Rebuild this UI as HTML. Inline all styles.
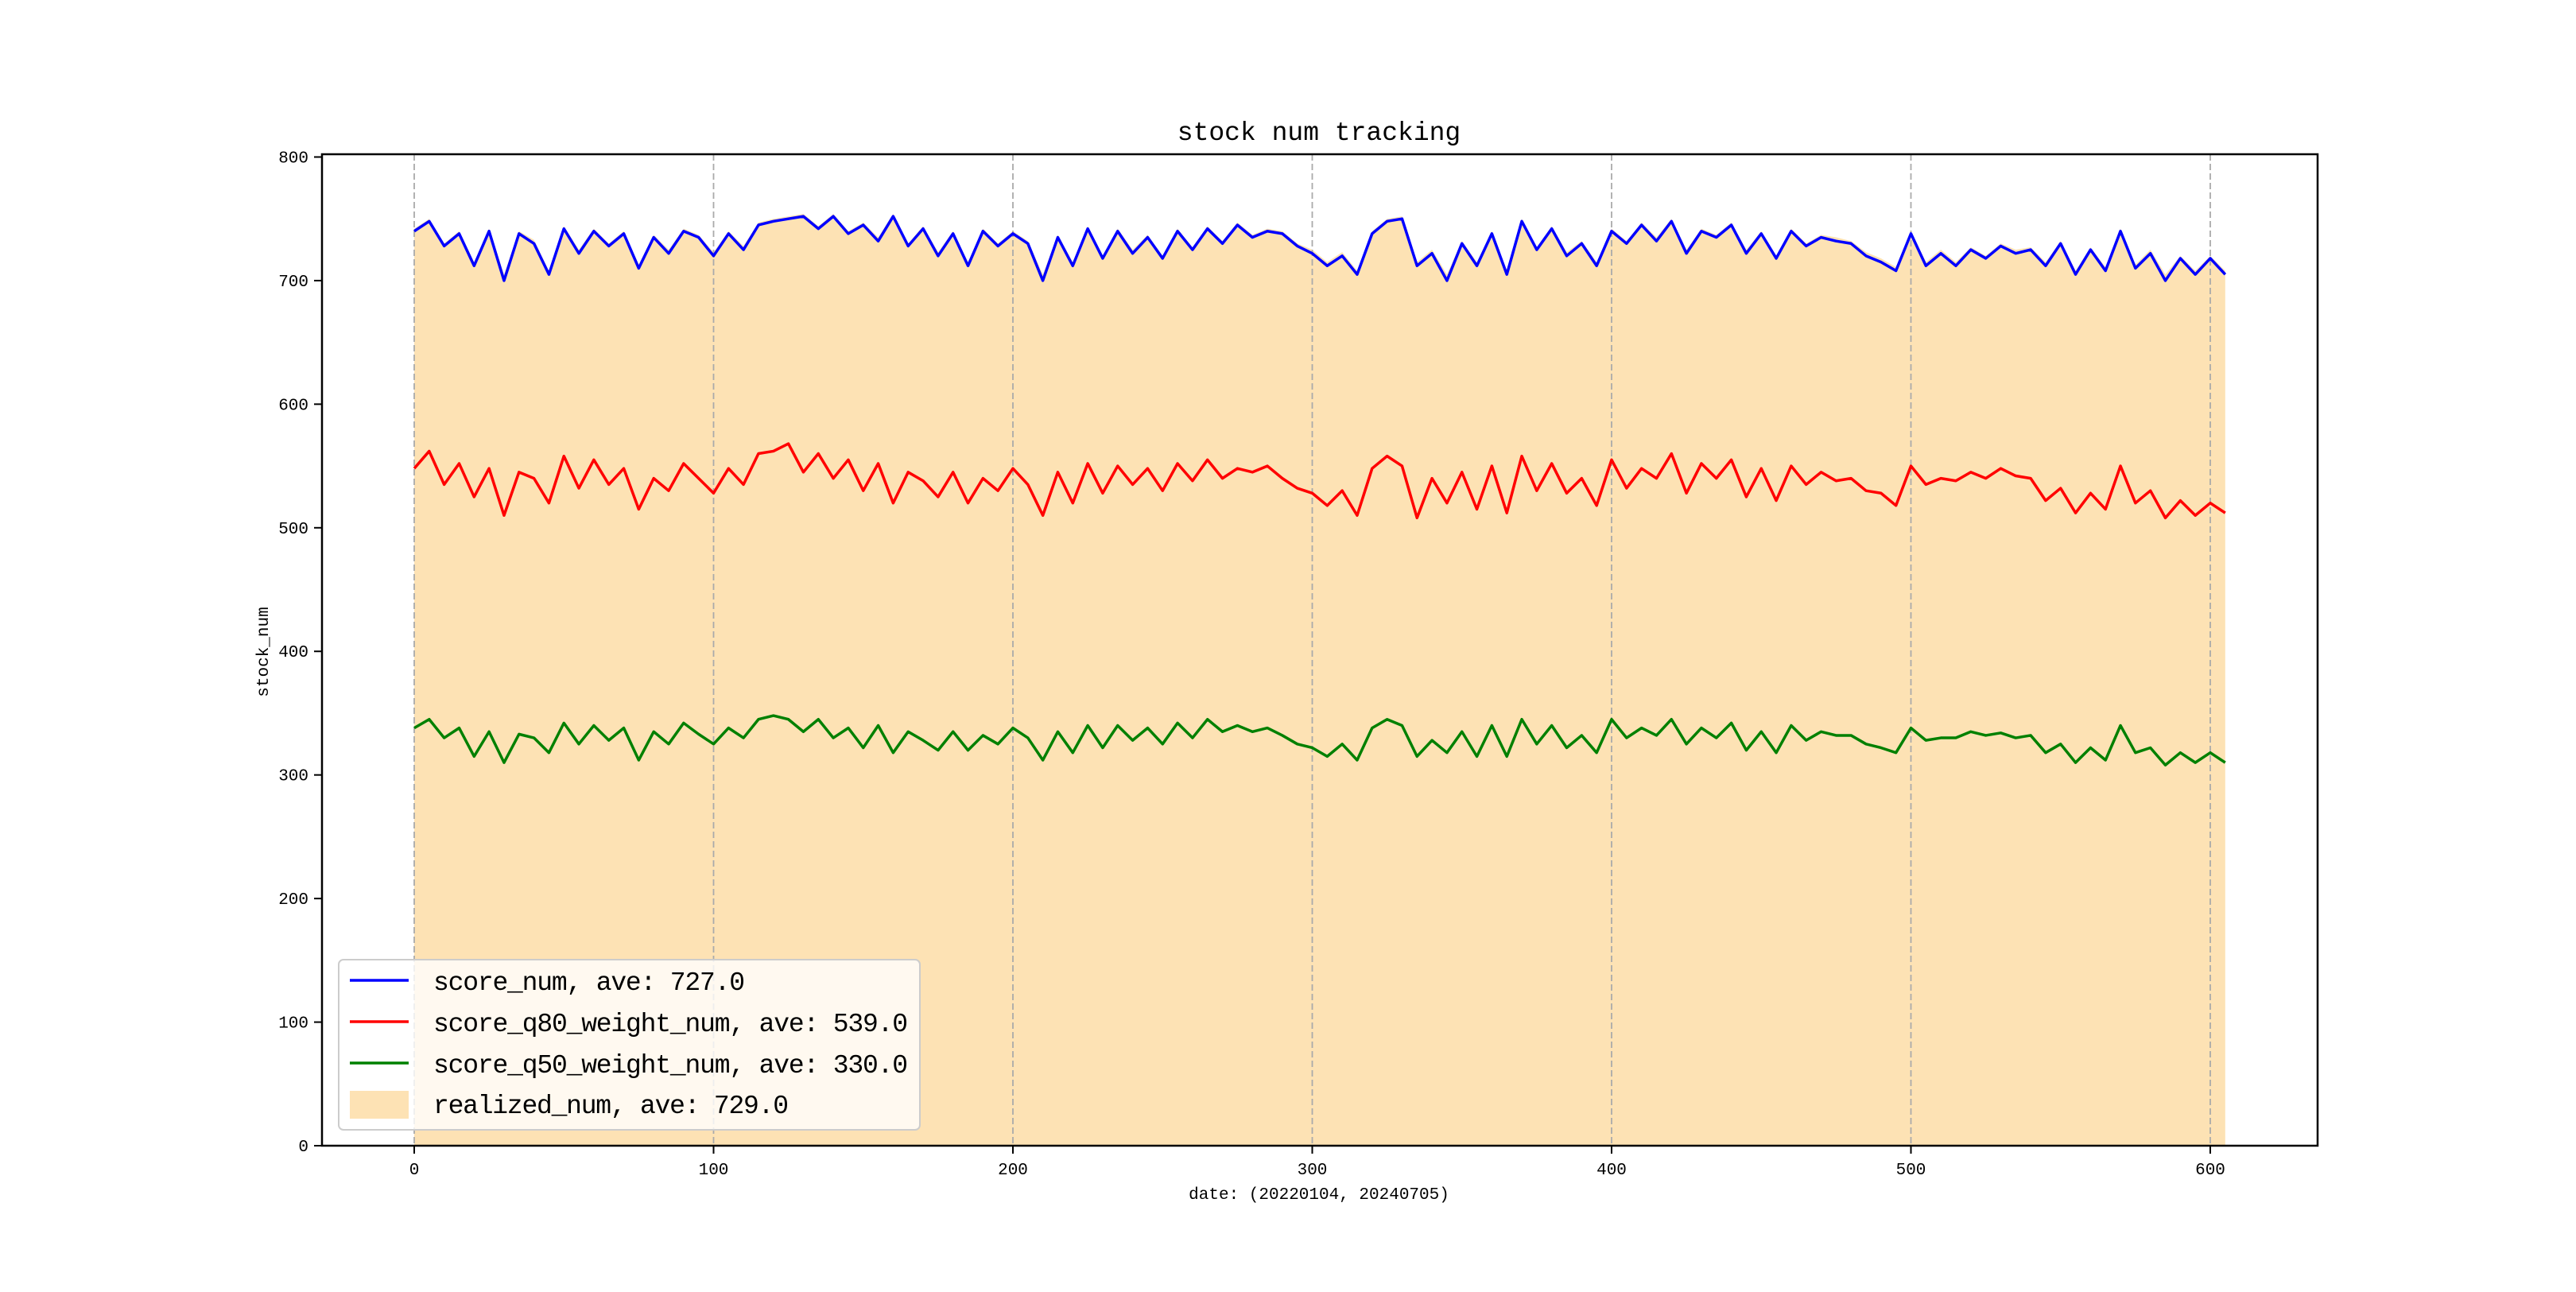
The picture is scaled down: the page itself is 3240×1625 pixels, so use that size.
<!DOCTYPE html>
<html><head><meta charset="utf-8"><style>
body{margin:0;background:#fff}
svg text{font-family:"Liberation Mono","Noto Sans CJK SC",monospace;fill:#000}
</style></head><body>
<svg id="chart" width="3240" height="1620" viewBox="0 0 3240 1620" xmlns="http://www.w3.org/2000/svg">
<rect x="0" y="0" width="3240" height="1620" fill="#fff"/>
<g id="fill-layer"></g>
<g id="grid-layer"></g>
<g id="line-layer"></g>
<rect x="405" y="194" width="2510" height="1247" fill="none" stroke="#000" stroke-width="2.5"/>
<g id="axis-layer"></g>
<text x="1659" y="176" font-size="33" text-anchor="middle">stock num tracking</text>
<text x="1659" y="1508" font-size="21" text-anchor="middle">date: (20220104, 20240705)</text>
<text x="337" y="820" font-size="21" text-anchor="middle" transform="rotate(-90 337 820)">stock_num</text>
<g>
<rect x="426" y="1207" width="731" height="214" rx="6" fill="#fff" fill-opacity="0.8" stroke="#ccc" stroke-width="2"/>
<g><line x1="440" y1="1233" x2="514" y2="1233" stroke="#0000ff" stroke-width="3.5"/><text x="545" y="1245" font-size="33" textLength="392">score_num, ave: 727.0</text></g>
<g><line x1="440" y1="1285" x2="514" y2="1285" stroke="#ff0000" stroke-width="3.5"/><text x="545" y="1297" font-size="33" textLength="597">score_q80_weight_num, ave: 539.0</text></g>
<g><line x1="440" y1="1337" x2="514" y2="1337" stroke="#008000" stroke-width="3.5"/><text x="545" y="1349" font-size="33" textLength="597">score_q50_weight_num, ave: 330.0</text></g>
<g><rect x="440" y="1372" width="74" height="35" fill="#fde2b4"/><text x="545" y="1400" font-size="33" textLength="447">realized_num, ave: 729.0</text></g>
</g>
</svg>
<script>
const step = 5;
const blueVals = [740,748,728,738,712,740,700,738,730,705,742,722,
740,728,738,710,735,722,740,735,720,738,725,745,
748,750,752,742,752,738,745,732,752,728,742,720,
738,712,740,728,738,730,700,735,712,742,718,740,
722,735,718,740,725,742,730,745,735,740,738,728,
722,712,720,705,738,748,750,712,722,700,730,712,
738,705,748,725,742,720,730,712,740,730,745,732,
748,722,740,735,745,722,738,718,740,728,735,732,
730,720,715,708,738,712,722,712,725,718,728,722,
725,712,730,705,725,708,740,710,722,700,718,705,
718,705];
const redVals = [548,562,535,552,525,548,510,545,540,520,558,532,
555,535,548,515,540,530,552,540,528,548,535,560,
562,568,545,560,540,555,530,552,520,545,538,525,
545,520,540,530,548,535,510,545,520,552,528,550,
535,548,530,552,538,555,540,548,545,550,540,532,
528,518,530,510,548,558,550,508,540,520,545,515,
550,512,558,530,552,528,540,518,555,532,548,540,
560,528,552,540,555,525,548,522,550,535,545,538,
540,530,528,518,550,535,540,538,545,540,548,542,
540,522,532,512,528,515,550,520,530,508,522,510,
520,512];
const greenVals = [338,345,330,338,315,335,310,333,330,318,342,325,
340,328,338,312,335,325,342,333,325,338,330,345,
348,345,335,345,330,338,322,340,318,335,328,320,
335,320,332,325,338,330,312,335,318,340,322,340,
328,338,325,342,330,345,335,340,335,338,332,325,
322,315,325,312,338,345,340,315,328,318,335,315,
340,315,345,325,340,322,332,318,345,330,338,332,
345,325,338,330,342,320,335,318,340,328,335,332,
332,325,322,318,338,328,330,330,335,332,334,330,
332,318,325,310,322,312,340,318,322,308,318,310,
318,310];
const realizedVals = [742,750,730,740,715,742,705,740,733,708,744,725,
742,730,740,713,737,725,742,737,723,740,728,747,
750,752,754,744,754,740,747,735,754,730,744,723,
740,715,742,730,740,732,705,737,715,744,720,742,
725,737,720,742,727,744,732,747,737,742,740,730,
725,715,723,708,740,750,752,715,725,705,732,715,
740,708,750,727,744,723,732,715,742,732,747,735,
750,725,742,737,747,725,740,720,742,730,737,735,
732,723,718,711,740,715,725,715,727,720,730,725,
727,715,732,708,727,711,742,713,725,705,720,708,
720,708];
const xTicks = [0,100,200,300,400,500,600];
const yTicks = [0,100,200,300,400,500,600,700,800];

const NS = "http://www.w3.org/2000/svg";
function xS(v){ return 521 + v * 3.765; }
function yS(v){ return 1441 - v * 1.5544; }
function mk(tag, attrs, parent){ const e=document.createElementNS(NS,tag); for(const k in attrs) e.setAttribute(k,attrs[k]); parent.appendChild(e); return e; }
const fillG=document.getElementById('fill-layer'), gridG=document.getElementById('grid-layer'), lineG=document.getElementById('line-layer'), axG=document.getElementById('axis-layer');

let d = "M" + xS(0) + "," + yS(0);
realizedVals.forEach((v,i)=>{ d += " L" + xS(i*step) + "," + yS(v); });
d += " L" + xS((realizedVals.length-1)*step) + "," + yS(0) + " Z";
const area = mk('path',{d:d, fill:'#fde2b4', stroke:'none'}, fillG);



xTicks.forEach(t=>{
  const gl = mk('line',{x1:xS(t),x2:xS(t),y1:194,y2:1441,stroke:'#aaa','stroke-width':1.8,'stroke-dasharray':'8,4'}, gridG);
  
  
  const tk = mk('line',{x1:xS(t),x2:xS(t),y1:1441,y2:1451,stroke:'#000','stroke-width':2}, axG);
  
  
  const lb = mk('text',{x:xS(t),y:1477,'font-size':21,'text-anchor':'middle'}, axG);
  lb.textContent = t;
  
  
});
yTicks.forEach(t=>{
  const tk = mk('line',{x1:395,x2:405,y1:yS(t),y2:yS(t),stroke:'#000','stroke-width':2}, axG);
  
  
  const lb = mk('text',{x:388,y:yS(t)+7,'font-size':21,'text-anchor':'end'}, axG);
  lb.textContent = t;
  
  
});

function drawLine(vals, color, name){
  const pts = vals.map((v,i)=> xS(i*step)+","+yS(v)).join(" ");
  const p = mk('polyline',{points:pts, fill:'none', stroke:color, 'stroke-width':3.5, 'stroke-linejoin':'round'}, lineG);
  
  
}
drawLine(blueVals,'#0000ff','score-num-line');
drawLine(redVals,'#ff0000','score-q80-line');
drawLine(greenVals,'#008000','score-q50-line');
</script>
</body></html>
